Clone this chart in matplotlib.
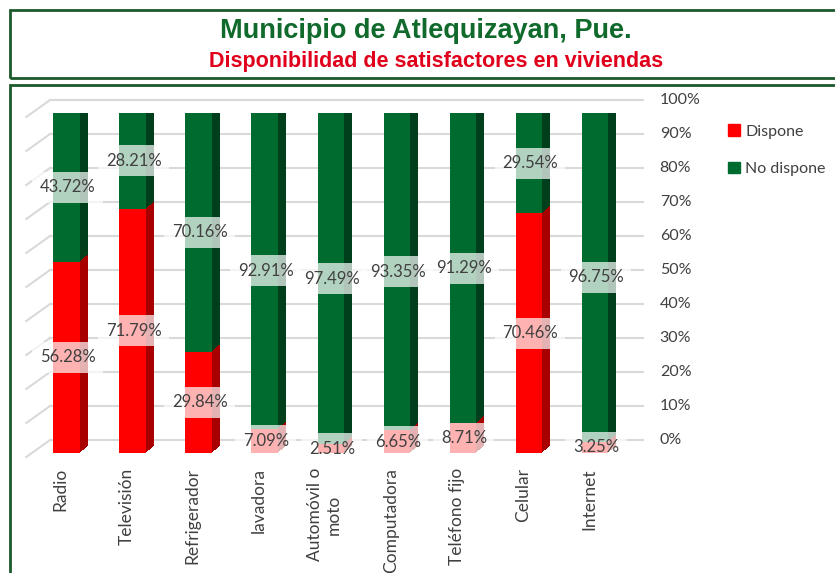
import matplotlib
matplotlib.use("Agg")
import matplotlib.pyplot as plt
from matplotlib.patches import Rectangle, Patch
from matplotlib.transforms import ScaledTranslation

# data
categories = ['Radio', 'Televisión', 'Refrigerador', 'lavadora', 'Automóvil o\nmoto',
              'Computadora', 'Teléfono fijo', 'Celular', 'Internet']
dispone = [56.28, 71.79, 29.84, 7.09, 2.51, 6.65, 8.71, 70.46, 3.25]
no_dispone = [43.72, 28.21, 70.16, 92.91, 97.49, 93.35, 91.29, 29.54, 96.75]
pct_ticks = [0, 10, 20, 30, 40, 50, 60, 70, 80, 90, 100]

W, H, DPI = 835, 573, 100
red, red_side = '#ff0000', '#a80000'
green, green_side = '#006b2f', '#003f1b'
txt_col = '#404040'
frame_col = '#1d5a2c'

plt.rcParams['font.family'] = ['Lato', 'DejaVu Sans']

fig = plt.figure(figsize=(W / DPI, H / DPI), dpi=DPI)
# plot area placed in pixels: bar front faces, 0% at y=453, 100% at y=113
ax = fig.add_axes([33.5 / W, (H - 453) / H, 594.5 / W, 340 / H])
ax.set_xlim(-0.5, 8.5)
ax.set_ylim(0, 100)
ax.axis('off')


def shift(dx_px, dy_px):
    return ax.transData + ScaledTranslation(dx_px / DPI, dy_px / DPI, fig.dpi_scale_trans)


x = list(range(len(categories)))
px = 100 / 340  # data units per pixel vertically

# back wall gridlines and left floor diagonals
wall = shift(0, 13)
for v in pct_ticks:
    ax.plot([-0.25, 8.73], [v, v], color='#d9d9d9', lw=1.5, transform=wall, zorder=0, clip_on=False)
    ax.plot([-0.61, -0.25], [v - 17 * px, v], color='#d9d9d9', lw=1.5, transform=wall, zorder=0, clip_on=False)
    ax.text(8.98, v, f'{v}%', transform=wall, ha='left', va='center', fontsize=11.5, color=txt_col)

# 3D depth: stack offset copies behind the front faces
steps = 8
for k in range(steps, 0, -1):
    tr = shift(8 * k / steps, 7 * k / steps)
    ax.bar(x, dispone, width=0.4, color=red_side, transform=tr, zorder=1)
    ax.bar(x, no_dispone, width=0.4, bottom=dispone, color=green_side, transform=tr, zorder=1)

ax.bar(x, dispone, width=0.4, color=red, zorder=2)
ax.bar(x, no_dispone, width=0.4, bottom=dispone, color=green, zorder=2)

# data labels centred on each segment
lbl = shift(1, 0)
for i in x:
    ax.text(i, dispone[i] / 2, f'{dispone[i]:.2f}%', transform=lbl, ha='center', va='center',
            fontsize=12, color=txt_col, zorder=3,
            bbox=dict(boxstyle='square,pad=0.45', fc='white', ec='none', alpha=0.7))
    ax.text(i, dispone[i] + no_dispone[i] / 2, f'{no_dispone[i]:.2f}%', transform=lbl,
            ha='center', va='center', fontsize=12, color=txt_col, zorder=3,
            bbox=dict(boxstyle='square,pad=0.45', fc='white', ec='none', alpha=0.7))

# category labels
cat_tr = shift(-6, -15)
for i, c in enumerate(categories):
    ax.text(i, 0, c, transform=cat_tr, rotation=90, ha='center', va='top',
            multialignment='center', fontsize=12.5, color=txt_col, clip_on=False)

handles = [Patch(color=red, label='Dispone'), Patch(color=green, label='No dispone')]
leg = fig.legend(handles=handles, loc='upper left', bbox_to_anchor=(714 / W, 1 - 110 / H),
                 frameon=False, fontsize=11.5, handlelength=0.7, handleheight=0.7,
                 handletextpad=0.35, labelspacing=1.45)
for t in leg.get_texts():
    t.set_color(txt_col)

# frames
fig.patches.append(Rectangle((10 / W, 1 - 78 / H), 840 / W, 68 / H, transform=fig.transFigure,
                             fill=False, ec=frame_col, lw=2))
fig.patches.append(Rectangle((10 / W, -0.05), 840 / W, 1 - 85 / H + 0.05, transform=fig.transFigure,
                             fill=False, ec=frame_col, lw=2))

fig.text(426 / W, 1 - 31 / H, 'Municipio de Atlequizayan, Pue.', ha='center', va='center',
         fontsize=19.5, fontweight='bold', color='#0f6a2c', family='Liberation Sans')
fig.text(436 / W, 1 - 62 / H, 'Disponibilidad de satisfactores en viviendas', ha='center',
         va='center', fontsize=15.5, fontweight='bold', color='#e0001b', family='Liberation Sans')

fig.savefig('out.png', dpi=DPI)
